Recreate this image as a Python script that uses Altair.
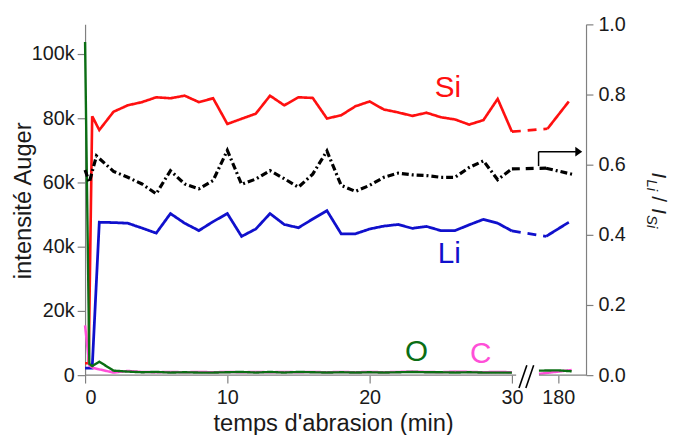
import altair as alt
import pandas as pd

FONT = "Liberation Sans"

# ---- data (left axis in thousands of counts; x in minutes, positions past the break are axis positions) ----
BREAK_POS = 33.26          # axis position labelled "180"
X_MAX = 35.21

si_t = [0, 0.25, 0.5, 1, 2, 3, 4, 5, 6, 7, 8, 9, 10, 11, 12, 13, 14, 15, 16, 17, 18, 19, 20,
        21, 22, 23, 24, 25, 26, 27, 28, 29, 30]
si_v = [3.7, 3.7, 80.6, 76.3, 82.0, 84.0, 85.0, 86.5, 86.2, 87.0, 85.0, 86.2, 78.2, 79.8, 81.4,
        87.0, 84.0, 86.5, 86.3, 79.9, 80.9, 83.7, 85.2, 82.7, 81.8, 80.7, 81.7, 80.3, 79.6, 78.0,
        79.4, 86.0, 75.8]
si_after_t = [32.5, 34.0]
si_after_v = [76.7, 85.2]

li_t = [0, 0.5, 1, 2, 3, 4, 5, 6, 7, 8, 9, 10, 11, 12, 13, 14, 15, 16, 17, 18, 19, 20,
        21, 22, 23, 24, 25, 26, 27, 28, 29, 30]
li_v = [2.2, 2.2, 47.6, 47.5, 47.3, 45.8, 44.2, 50.3, 47.3, 45.0, 47.8, 50.3, 43.2, 45.5, 50.3,
        46.9, 45.9, 48.6, 51.2, 44.0, 44.0, 45.5, 46.4, 46.9, 45.7, 46.3, 45.0, 45.0, 46.8, 48.5,
        47.3, 44.9]
li_after_t = [32.4, 34.0]
li_after_v = [43.2, 47.6]

o_t = [0, 0.3, 0.5, 1, 2, 3, 4, 5, 6, 7, 8, 9, 10, 11, 12, 13, 14, 15, 16, 17, 18, 19, 20,
       21, 22, 23, 24, 25, 26, 27, 28, 29, 30]
o_v = [103.7, 3.5, 2.8, 4.2, 1.4, 1.1, 0.9, 1.0, 0.8, 0.9, 0.8, 0.8, 0.9, 1.0, 0.8, 1.0, 0.8,
       1.0, 0.9, 0.8, 0.9, 0.8, 0.9, 0.8, 0.9, 1.0, 0.9, 0.9, 0.8, 0.9, 0.8, 0.8, 0.8]
o_after_t = [31.9, 33.2, 34.2]
o_after_v = [1.4, 1.5, 1.2]

c_t = [0, 0.3, 0.6, 1, 2, 3, 4, 5, 6, 7, 8, 9, 10, 11, 12, 13, 14, 15, 16, 17, 18, 19, 20,
       21, 22, 23, 24, 25, 26, 27, 28, 29, 30]
c_v = [15.5, 3.0, 2.2, 1.8, 0.8, 1.3, 1.0, 0.9, 1.0, 0.9, 1.0, 0.9, 1.0, 0.9, 1.0, 0.9, 1.0,
       0.9, 1.0, 0.9, 1.0, 0.9, 1.0, 0.9, 1.0, 1.1, 1.0, 0.9, 1.1, 1.0, 0.9, 1.0, 0.9]
c_after_t = [31.9, 34.2]
c_after_v = [0.4, 1.6]

ratio_t = [0, 0.3, 0.8, 2, 3, 4, 5, 6, 7, 8, 9, 10, 11, 12, 13, 14, 15, 16, 17, 18, 19, 20,
           21, 22, 23, 24, 25, 26, 27, 28, 29, 30]
ratio_v = [0.585, 0.55, 0.625, 0.581, 0.564, 0.545, 0.517, 0.583, 0.545, 0.531, 0.555, 0.641,
           0.544, 0.559, 0.583, 0.56, 0.536, 0.573, 0.639, 0.541, 0.524, 0.541, 0.564, 0.576,
           0.571, 0.569, 0.564, 0.564, 0.592, 0.611, 0.557, 0.588]
ratio_after_t = [32.4, 34.4]
ratio_after_v = [0.59, 0.571]

series_names = ["Li", "Si", "C", "O"]
series_colors = ["#1010cc", "#ff1010", "#ff4fd8", "#0b6e14"]
series_widths = [2.8, 2.4, 2.4, 2.8]

label_t = [25.6, 25.5, 27.8, 23.3]
label_v = [34.8, 86.5, 3.7, 4.3]


def segments(name, t, v, ta, va, bridge=True, main="solid", gap="dashed"):
    rows = []
    for a, b in zip(t, v):
        rows.append(dict(series=name, seg=name + "_a", dash=main, t=a, v=b))
    if bridge:
        rows.append(dict(series=name, seg=name + "_b", dash=gap, t=t[-1], v=v[-1]))
        rows.append(dict(series=name, seg=name + "_b", dash=gap, t=ta[0], v=va[0]))
    for a, b in zip(ta, va):
        rows.append(dict(series=name, seg=name + "_c", dash=main, t=a, v=b))
    return rows


rows = []
rows += segments("Li", li_t, li_v, li_after_t, li_after_v)
rows += segments("Si", si_t, si_v, si_after_t, si_after_v)
rows += segments("C", c_t, c_v, c_after_t, c_after_v, bridge=False)
rows += segments("O", o_t, o_v, o_after_t, o_after_v, bridge=False)
df_left = pd.DataFrame(rows)

df_ratio = pd.DataFrame(segments("R", ratio_t, ratio_v, ratio_after_t, ratio_after_v,
                                 main="dashdot", gap="dashed"))
df_labels = pd.DataFrame(dict(series=series_names, t=label_t, v=label_v))

x_scale = alt.Scale(domain=[0, X_MAX], nice=False, zero=False)
yl_scale = alt.Scale(domain=[0, 109.2], nice=False)
yr_scale = alt.Scale(domain=[0, 1.0], nice=False)
col_scale = alt.Scale(domain=series_names, range=series_colors)

x_axis = alt.Axis(values=[0, 10, 20, 30, BREAK_POS],
                  labelExpr="datum.value > 31 ? '180' : format(datum.value, 'd')",
                  domain=False, tickSize=8, labelPadding=5, labelFontSize=20,
                  title="temps d'abrasion (min)", titleFontSize=24,
                  titleX=251, titleY=56, titleBaseline="alphabetic", titleAlign="center")
yl_axis = alt.Axis(orient="left", values=[0, 20, 40, 60, 80, 100],
                   labelExpr="datum.value == 0 ? '0' : datum.value + 'k'",
                   tickSize=8, labelPadding=3, labelFontSize=20,
                   title="intensité Auger", titleFontSize=24, titleAngle=-90,
                   titleX=-55, titleY=178, titleBaseline="alphabetic", titleAlign="center")
yr_axis = alt.Axis(orient="right", values=[0, 0.2, 0.4, 0.6, 0.8, 1.0], format=".1f",
                   tickSize=7, labelPadding=5, labelFontSize=20, title="")


def X(field):
    return alt.X(field, type="quantitative", scale=x_scale, axis=x_axis)


def YL(field):
    return alt.Y(field, type="quantitative", scale=yl_scale, axis=yl_axis)


def YR(field):
    return alt.Y(field, type="quantitative", scale=yr_scale, axis=yr_axis)


lines = alt.Chart(df_left).mark_line().encode(
    x=X("t"), y=YL("v"),
    color=alt.Color("series:N", scale=col_scale, legend=None),
    strokeWidth=alt.StrokeWidth("series:N", scale=alt.Scale(domain=series_names, range=series_widths), legend=None),
    strokeDash=alt.StrokeDash("dash:N", scale=alt.Scale(domain=["solid", "dashed"], range=[[1, 0], [9, 7]]), legend=None),
    detail="seg:N",
)

labels = alt.Chart(df_labels).mark_text(fontSize=30, font=FONT, baseline="alphabetic", align="center").encode(
    x=X("t"), y=YL("v"),
    text="series:N",
    color=alt.Color("series:N", scale=col_scale, legend=None),
)

# broken x axis line and break marks (axis units)
axis_seg = pd.DataFrame(dict(t=[0, 31.9], t2=[30.3, X_MAX], v=[0, 0]))
axis_line = alt.Chart(axis_seg).mark_rule(color="#808080", strokeWidth=1.2).encode(
    x=X("t"), x2="t2:Q", y=YL("v"),
)
slash_df = pd.DataFrame(dict(t=[30.5, 30.98], t2=[31.05, 31.53], v=[-4.0, -4.0], v2=[3.1, 3.1]))
slashes = alt.Chart(slash_df).mark_rule(color="black", strokeWidth=1.6).encode(
    x=X("t"), x2="t2:Q", y=YL("v"), y2="v2:Q",
)

left = alt.layer(lines, axis_line, slashes, labels)

ratio = alt.Chart(df_ratio).mark_line(color="black", strokeWidth=3.2).encode(
    x=X("t"), y=YR("v"),
    strokeDash=alt.StrokeDash("dash:N", scale=alt.Scale(domain=["dashdot", "dashed"], range=[[7, 3, 2, 3], [8, 6]]), legend=None),
    detail="seg:N",
)

# arrow pointing to the right axis
arrow_v = pd.DataFrame(dict(t=[31.875], v=[0.596], v2=[0.637]))
arrow_h = pd.DataFrame(dict(t=[31.875], t2=[34.5], v=[0.637]))
arrow_head = pd.DataFrame(dict(t=[34.7], v=[0.637]))
arr1 = alt.Chart(arrow_v).mark_rule(color="black", strokeWidth=1.5).encode(
    x=X("t"), y=YR("v"), y2="v2:Q")
arr2 = alt.Chart(arrow_h).mark_rule(color="black", strokeWidth=1.5).encode(
    x=X("t"), x2="t2:Q", y=YR("v"))
arr3 = alt.Chart(arrow_head).mark_point(shape="M-1,-1.4L1,0L-1,1.4Z", filled=True, color="black",
                                         opacity=1, size=49).encode(
    x=X("t"), y=YR("v"))

one = pd.DataFrame({"k": [0]})


def title_piece(txt, px, py, fs, italic=True):
    return alt.Chart(one).mark_text(text=txt, angle=90, fontSize=fs, font=FONT,
                                    fontStyle="italic" if italic else "normal",
                                    align="left", baseline="alphabetic", color="#1a1a1a").encode(
        x=alt.value(px), y=alt.value(py))


rtitle = [title_piece("I", 574, 150, 21), title_piece("Li", 569, 157, 15),
          title_piece("/", 574, 174, 21, italic=False),
          title_piece("I", 574, 186, 21), title_piece("Si", 569, 193, 15)]

right = alt.layer(ratio, arr1, arr2, arr3)

chart = alt.layer(left, right, *rtitle).resolve_scale(y="independent", strokeDash="independent").properties(
    width=507, height=355,
    autosize=alt.AutoSizeParams(type="none"),
    padding={"left": 78, "top": 14, "right": 86, "bottom": 58},
).configure_view(stroke=None).configure_axis(
    grid=False, labelFont=FONT, titleFont=FONT, titleFontWeight="normal",
    labelColor="#1a1a1a", titleColor="#1a1a1a", domainColor="#808080", tickColor="#808080",
    domainWidth=1.2, tickWidth=1.2,
)

chart.save("out.html", embed_options={"renderer": "svg", "actions": False})
